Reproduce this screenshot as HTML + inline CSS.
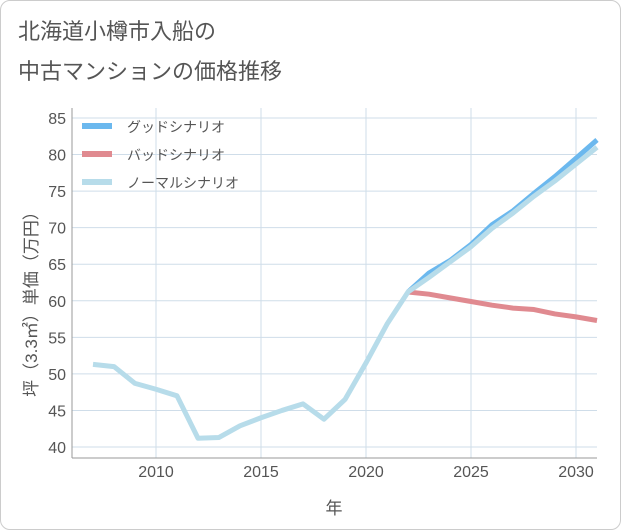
<!DOCTYPE html>
<html><head><meta charset="utf-8"><style>
body{margin:0;background:#fff;font-family:"Liberation Sans","Noto Sans CJK JP",sans-serif;}
#wrap{position:relative;width:619px;height:528px;border:1px solid #ccc;border-radius:10px;}
</style></head><body>
<div id="wrap">
<svg id="c" width="621" height="530" style="position:absolute;left:-1px;top:-1px">
<text x="18" y="39" font-size="22" fill="#555">北海道小樽市入船の</text>
<text x="18" y="79" font-size="22" fill="#555">中古マンションの価格推移</text>
</svg>
</div>
<script>
const years=[2007,2008,2009,2010,2011,2012,2013,2014,2015,2016,2017,2018,2019,2020,2021,2022,2023,2024,2025,2026,2027,2028,2029,2030,2031];
const normal=[51.3,51.0,48.7,47.9,47.0,41.2,41.3,42.9,44.0,45.0,45.9,43.8,46.5,51.5,56.8,61.2,63.2,65.3,67.4,69.9,72.0,74.3,76.4,78.7,81.0];
const futureYears=[2022,2023,2024,2025,2026,2027,2028,2029,2030,2031];
const good=[61.2,63.8,65.5,67.7,70.4,72.3,74.7,77.0,79.5,82.0];
const bad=[61.2,60.9,60.4,59.9,59.4,59.0,58.8,58.2,57.8,57.3];
const yTicks=[40,45,50,55,60,65,70,75,80,85];
const xTicks=[2010,2015,2020,2025,2030];
const NS='http://www.w3.org/2000/svg',svg=document.getElementById('c');
const L=72,R=597,T=108,B=458;
const xs=v=>156+(v-2010)*21, ys=v=>447-(v-40)*329/45;
function mk(t,a,p){const e=document.createElementNS(NS,t);for(const k in a)e.setAttribute(k,a[k]);(p||svg).appendChild(e);return e;}
yTicks.forEach(v=>{const g=mk('line',{x1:L,x2:R,y1:ys(v),y2:ys(v),stroke:'#cfdde9'});


const t=mk('text',{x:L-6,y:ys(v)+6,'text-anchor':'end','font-size':16,fill:'#555'});t.textContent=v;

});
xTicks.forEach(v=>{const g=mk('line',{x1:xs(v),x2:xs(v),y1:T,y2:B,stroke:'#cfdde9'});


const t=mk('text',{x:xs(v),y:B+19,'text-anchor':'middle','font-size':16,fill:'#555'});t.textContent=v;

});
const ax=mk('line',{x1:L,x2:L,y1:T,y2:B,stroke:'#999'});


const xa=mk('line',{x1:L,x2:R,y1:B,y2:B,stroke:'#999'});


function line(xv,yv,col,name){const p=mk('polyline',{points:xv.map((x,i)=>xs(x)+','+ys(yv[i])).join(' '),fill:'none',stroke:col,'stroke-width':5,'stroke-linejoin':'round'});

}
line(futureYears,good,'#6bb8ee','good-scenario-line');
line(futureYears,bad,'#e08a90','bad-scenario-line');
line(years,normal,'#b7dcea','normal-scenario-line');
[['グッドシナリオ','#6bb8ee'],['バッドシナリオ','#e08a90'],['ノーマルシナリオ','#b7dcea']].forEach((d,i)=>{const y=126+i*28;
const g=mk('g',{});

mk('rect',{x:82,y:y-3,width:30,height:6,fill:d[1]},g);
const t=mk('text',{x:127,y:y+6,'font-size':14,fill:'#555'},g);t.textContent=d[0];});
const xt=mk('text',{x:334,y:514,'text-anchor':'middle','font-size':17,fill:'#555'});xt.textContent='年';


const yt=mk('text',{x:0,y:0,'text-anchor':'middle','font-size':17,fill:'#555',transform:'translate(37,300) rotate(-90)'});yt.textContent='坪（3.3㎡）単価（万円）';


</script>
</body></html>
